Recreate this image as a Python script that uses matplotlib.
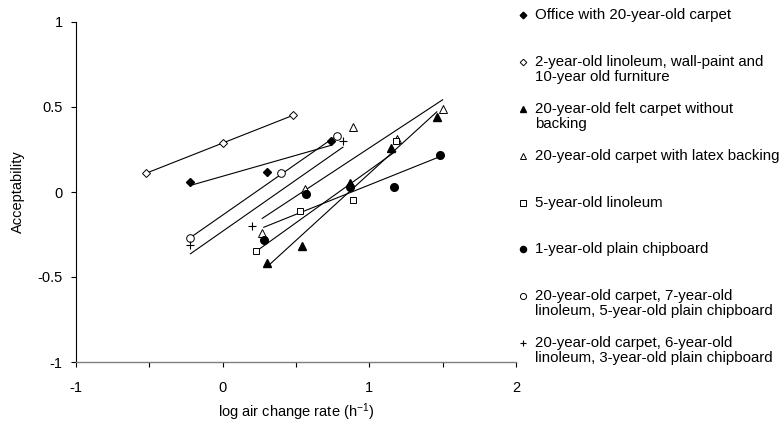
import numpy as np
import matplotlib
matplotlib.use('Agg')
import matplotlib.pyplot as plt
from matplotlib.lines import Line2D

plt.rcParams['font.family'] = ['Liberation Sans', 'DejaVu Sans']
plt.rcParams['mathtext.fontset'] = 'custom'
plt.rcParams['mathtext.rm'] = 'Liberation Sans'
plt.rcParams['mathtext.it'] = 'Liberation Sans'
plt.rcParams['axes.unicode_minus'] = False

# data (x = log air change rate, y = acceptability)
office_x = [-0.22, 0.30, 0.74]
office_y = [0.06, 0.12, 0.30]
lino2_x = [-0.52, 0.00, 0.48]
lino2_y = [0.11, 0.29, 0.45]
felt_x = [0.30, 0.54, 0.87, 1.15, 1.46]
felt_y = [-0.42, -0.32, 0.05, 0.26, 0.44]
latex_x = [0.27, 0.56, 0.89, 1.19, 1.50]
latex_y = [-0.24, 0.02, 0.38, 0.31, 0.49]
lino5_x = [0.23, 0.53, 0.89, 1.18]
lino5_y = [-0.35, -0.11, -0.05, 0.30]
chip1_x = [0.28, 0.57, 0.87, 1.17, 1.48]
chip1_y = [-0.28, -0.01, 0.03, 0.03, 0.22]
circ_x = [-0.22, 0.40, 0.78]
circ_y = [-0.27, 0.11, 0.33]
plus_x = [-0.22, 0.20, 0.82]
plus_y = [-0.31, -0.20, 0.30]

labels = [
    'Office with 20-year-old carpet',
    '2-year-old linoleum, wall-paint and\n10-year old furniture',
    '20-year-old felt carpet without\nbacking',
    '20-year-old carpet with latex backing',
    '5-year-old linoleum',
    '1-year-old plain chipboard',
    '20-year-old carpet, 7-year-old\nlinoleum, 5-year-old plain chipboard',
    '20-year-old carpet, 6-year-old\nlinoleum, 3-year-old plain chipboard',
]

series = [
    (office_x, office_y, dict(marker='D', ms=4.2, mfc='black', mec='black')),
    (lino2_x, lino2_y, dict(marker='D', ms=4.2, mfc='white', mec='black', mew=0.7)),
    (felt_x, felt_y, dict(marker='^', ms=5.5, mfc='black', mec='black')),
    (latex_x, latex_y, dict(marker='^', ms=5.5, mfc='white', mec='black', mew=0.7)),
    (lino5_x, lino5_y, dict(marker='s', ms=5, mfc='white', mec='black', mew=0.7)),
    (chip1_x, chip1_y, dict(marker='o', ms=5.5, mfc='black', mec='black')),
    (circ_x, circ_y, dict(marker='o', ms=5.5, mfc='white', mec='black', mew=0.7)),
    (plus_x, plus_y, dict(marker='+', ms=5.5, mec='black', mew=0.8)),
]

fig = plt.figure(figsize=(7.8, 4.23), dpi=100)
ax = fig.add_axes([76 / 780, 61 / 423, 440 / 780, 340 / 423])

for xs, ys, style in series:
    xs = np.array(xs)
    ys = np.array(ys)
    # least squares line over the measured range
    k, b = np.polyfit(xs, ys, 1)
    xl = np.array([xs.min(), xs.max()])
    ax.plot(xl, k * xl + b, color='black', lw=0.8, zorder=2)
    ax.plot(xs, ys, ls='none', zorder=3, **style)

ax.set_xlim(-1, 2)
ax.set_ylim(-1, 1)
ax.set_xticks([-1, 0, 1, 2])
ax.set_xticks([-0.5, 0.5, 1.5], minor=True)
ax.set_yticks([-1, -0.5, 0, 0.5, 1])
ax.set_yticklabels(['-1', '-0.5', '0', '0.5', '1'])
ax.tick_params(which='both', direction='out', length=3.5, width=0.8, labelsize=10.5)
ax.tick_params(axis='x', which='both', pad=10)
ax.tick_params(axis='y', pad=6)
for s in ['top', 'right']:
    ax.spines[s].set_visible(False)
ax.spines['left'].set_linewidth(0.8)
ax.spines['bottom'].set_linewidth(1.0)
ax.spines['bottom'].set_color('#7f7f7f')

ax.set_xlabel('log air change rate (h$^{-1}$)', fontsize=10.5, labelpad=5)
ax.set_ylabel('Acceptability', fontsize=10.5, labelpad=9)

# legend drawn by hand so the marker sits on the first text line
for i, (lab, (xs, ys, style)) in enumerate(zip(labels, series)):
    ypix = 15 + 46.9 * i
    yf = 1 - ypix / 423
    st = dict(style)
    st['ms'] = st['ms'] * 0.8
    fig.add_artist(Line2D([523 / 780], [yf], transform=fig.transFigure, ls='none', **st))
    fig.text(535 / 780, yf + 7 / 423, lab, fontsize=10.8, va='top', ha='left', linespacing=1.1)

fig.savefig('out.png', dpi=100)
